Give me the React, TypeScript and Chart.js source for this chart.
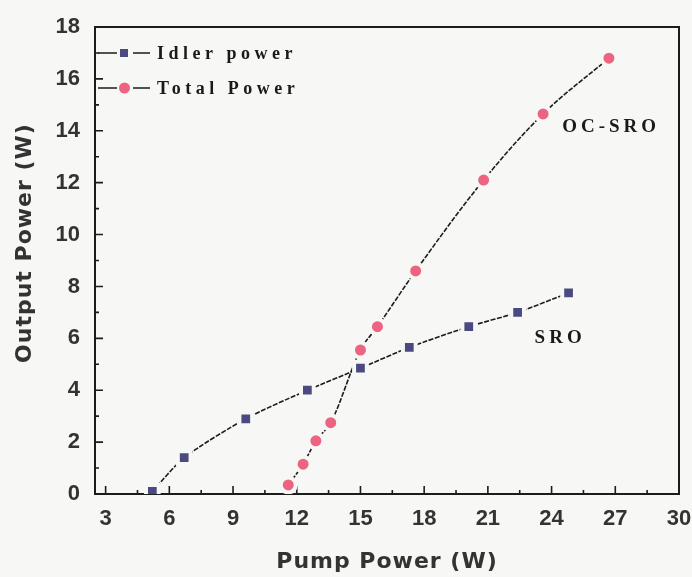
import { useEffect, useRef } from "react";
import { Chart, registerables } from "chart.js";

Chart.register(...registerables);

// ---- data ----
const idlerPump = [5.2, 6.7, 9.6, 12.5, 15.0, 17.3, 20.1, 22.4, 24.8];
const idlerPower = [0.1, 1.4, 2.9, 4.0, 4.85, 5.65, 6.45, 7.0, 7.75];
const totalPump = [11.6, 12.3, 12.9, 13.6, 15.0, 15.8, 17.6, 20.8, 23.6, 26.7];
const totalPower = [0.35, 1.15, 2.05, 2.75, 5.55, 6.45, 8.6, 12.1, 14.65, 16.8];

const xTicks = [3, 6, 9, 12, 15, 18, 21, 24, 27, 30];
const xMinorTicks = [4.5, 7.5, 10.5, 13.5, 16.5, 19.5, 22.5, 25.5, 28.5];
const yTicks = [0, 2, 4, 6, 8, 10, 12, 14, 16, 18];
const yMinorTicks = [1, 3, 5, 7, 9, 11, 13, 15, 17];

const seriesNames = ["Idler power", "Total Power"];
const curveNames = ["OC-SRO", "SRO"];
const curveLabelAt = [
  { x: 24.5, y: 14.15 },
  { x: 23.2, y: 6.0 },
];
const xTitle = "Pump Power (W)";
const yTitle = "Output Power (W)";

const BG = "#f7f7f5";
const INK = "#1c1c1c";
const NAVY = "#4a4a80";
const PINK = "#ec6482";

const decorPlugin = {
  id: "decor",
  beforeDraw(chart: any) {
    const ctx = chart.ctx;
    ctx.save();
    ctx.fillStyle = BG;
    ctx.fillRect(0, 0, chart.width, chart.height);
    ctx.restore();
  },
  beforeDatasetsDraw(chart: any) {
    const { ctx, chartArea: a, scales } = chart;
    const xs = scales.x;
    const ys = scales.y;
    ctx.save();
    ctx.strokeStyle = INK;
    ctx.lineWidth = 2;
    ctx.strokeRect(a.left, a.top, a.right - a.left, a.bottom - a.top);
    ctx.lineWidth = 1.6;
    ctx.beginPath();
    xTicks.forEach((v) => {
      const px = xs.getPixelForValue(v);
      if (px > a.right - 2) return;
      ctx.moveTo(px, a.bottom);
      ctx.lineTo(px, a.bottom - 8);
    });
    xMinorTicks.forEach((v) => {
      const px = xs.getPixelForValue(v);
      ctx.moveTo(px, a.bottom);
      ctx.lineTo(px, a.bottom - 4);
    });
    yTicks.forEach((v) => {
      const py = ys.getPixelForValue(v);
      if (py < a.top + 2 || py > a.bottom - 2) return;
      ctx.moveTo(a.left, py);
      ctx.lineTo(a.left + 8, py);
    });
    yMinorTicks.forEach((v) => {
      const py = ys.getPixelForValue(v);
      ctx.moveTo(a.left, py);
      ctx.lineTo(a.left + 4, py);
    });
    ctx.stroke();
    ctx.restore();
  },
  afterDraw(chart: any) {
    const { ctx, chartArea: a, scales } = chart;
    const xs = scales.x;
    const ys = scales.y;
    ctx.save();
    // axis titles
    ctx.fillStyle = "#333333";
    ctx.font = "bold 22px 'DejaVu Sans'";
    (ctx as any).letterSpacing = "1px";
    ctx.textAlign = "center";
    ctx.textBaseline = "middle";
    ctx.fillText(xTitle, 387, 562);
    ctx.save();
    ctx.translate(25, 243);
    ctx.rotate(-Math.PI / 2);
    ctx.fillText(yTitle, 0, 0);
    ctx.restore();

    // legend
    (ctx as any).letterSpacing = "4.5px";
    ctx.font = "bold 18px 'Liberation Serif'";
    ctx.textAlign = "left";
    ctx.textBaseline = "middle";
    const rows = [53, 88];
    rows.forEach((ry, i) => {
      ctx.strokeStyle = INK;
      ctx.lineWidth = 1.6;
      ctx.beginPath();
      ctx.moveTo(a.left + 3, ry);
      ctx.lineTo(a.left + 22, ry);
      ctx.moveTo(a.left + 38, ry);
      ctx.lineTo(a.left + 55, ry);
      ctx.stroke();
      if (i === 0) {
        ctx.fillStyle = NAVY;
        ctx.fillRect(a.left + 25, ry - 4, 8, 8);
      } else {
        ctx.fillStyle = PINK;
        ctx.beginPath();
        ctx.arc(a.left + 29.5, ry, 5.5, 0, Math.PI * 2);
        ctx.fill();
      }
      ctx.fillStyle = "#1a1a1a";
      ctx.fillText(seriesNames[i], a.left + 62, ry + 1);
    });

    // curve labels
    ctx.font = "bold 19px 'Liberation Serif'";
    (ctx as any).letterSpacing = "4px";
    curveNames.forEach((name, i) => {
      const p = curveLabelAt[i];
      ctx.fillText(name, xs.getPixelForValue(p.x), ys.getPixelForValue(p.y));
    });
    ctx.restore();
  },
};

export default function App() {
  const ref = useRef<HTMLCanvasElement | null>(null);
  useEffect(() => {
    if (!ref.current) return;
    const tickFont = { family: "'Liberation Sans'", size: 22, weight: "bold" as const };
    const chart = new Chart(ref.current, {
      type: "line",
      data: {
        datasets: [
          {
            label: seriesNames[0],
            data: idlerPump.map((x, i) => ({ x, y: idlerPower[i] })),
            borderColor: INK,
            borderWidth: 1.6,
            borderDash: [5, 1.5],
            tension: 0.25,
            pointStyle: "rect",
            pointRadius: 9,
            pointBackgroundColor: NAVY,
            pointBorderColor: BG,
            pointBorderWidth: 4,
            fill: false,
          },
          {
            label: seriesNames[1],
            data: totalPump.map((x, i) => ({ x, y: totalPower[i] })),
            borderColor: INK,
            borderWidth: 1.6,
            borderDash: [5, 1.5],
            cubicInterpolationMode: "monotone",
            pointStyle: "circle",
            pointRadius: 7.5,
            pointBackgroundColor: PINK,
            pointBorderColor: BG,
            pointBorderWidth: 4,
            fill: false,
          },
        ],
      },
      options: {
        animation: false,
        responsive: false,
        layout: { padding: { left: 0, right: 12, top: 27, bottom: 0 } },
        plugins: {
          legend: { display: false },
          tooltip: { enabled: false },
        },
        scales: {
          x: {
            type: "linear",
            min: 2.5,
            max: 30,
            afterBuildTicks: (s: any) => {
              s.ticks = xTicks.map((v) => ({ value: v }));
            },
            afterFit: (s: any) => {
              s.height = 83;
              s.paddingRight = 0;
              s.paddingLeft = 0;
            },
            grid: { display: false, drawTicks: false },
            border: { display: false },
            ticks: {
              font: tickFont,
              color: "#333333",
              padding: 12,
              maxRotation: 0,
              autoSkip: false,
            },
          },
          y: {
            type: "linear",
            min: 0,
            max: 18,
            afterBuildTicks: (s: any) => {
              s.ticks = yTicks.map((v) => ({ value: v }));
            },
            afterFit: (s: any) => {
              s.width = 95;
              s.paddingTop = 0;
              s.paddingBottom = 0;
            },
            grid: { display: false, drawTicks: false },
            border: { display: false },
            ticks: {
              font: tickFont,
              color: "#333333",
              padding: 15,
              autoSkip: false,
            },
          },
        },
      },
      plugins: [decorPlugin],
    } as any);
    return () => chart.destroy();
  }, []);
  return (
    <div style={{ position: "fixed", left: 0, top: 0, width: 692, height: 577, background: BG }}>
      <canvas ref={ref} width={692} height={577} style={{ display: "block" }} />
    </div>
  );
}
